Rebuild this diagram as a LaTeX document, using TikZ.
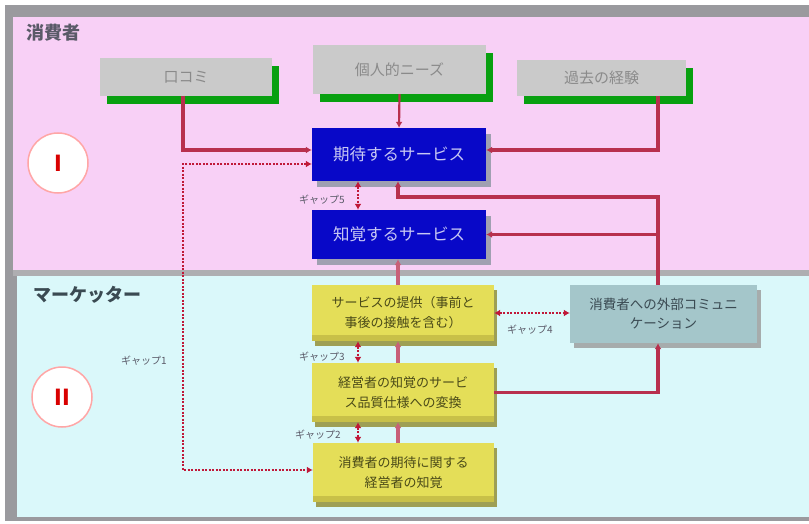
\documentclass[tikz,border=0pt]{standalone}
\usepackage{fontspec}
\setmainfont{Noto Sans CJK JP}
\usetikzlibrary{arrows.meta,shadows}
\definecolor{pinkbg}{HTML}{F8D0F6}
\definecolor{cyanbg}{HTML}{DAF8FA}
\definecolor{framegray}{HTML}{9A9A9E}
\definecolor{boxgray}{HTML}{CACACA}
\definecolor{txtgray}{HTML}{8A8A8A}
\definecolor{shgreen}{HTML}{08A010}
\definecolor{bluebox}{HTML}{0808C8}
\definecolor{bluetxt}{HTML}{C8C8F4}
\definecolor{yelbox}{HTML}{E4DE58}
\definecolor{yelband}{HTML}{C8C048}
\definecolor{yeltxt}{HTML}{4A4A18}
\definecolor{commbox}{HTML}{A4C6CA}
\definecolor{commtxt}{HTML}{3A4A52}
\definecolor{linered}{HTML}{B8304E}
\definecolor{linepink}{HTML}{C86078}
\definecolor{gapred}{HTML}{C01838}
\definecolor{labgray}{HTML}{5A5A68}
\tikzset{
  topbox/.style={fill=boxgray, text=txtgray, inner sep=0pt, font=\fontsize{15}{17}\selectfont,
    drop shadow={shadow xshift=7pt, shadow yshift=-8pt, fill=shgreen, opacity=1}},
  bluestyle/.style={fill=bluebox, text=bluetxt, inner sep=0pt, font=\fontsize{16.5}{18}\selectfont,
    drop shadow={shadow xshift=5pt, shadow yshift=-6pt, fill=black!40!cyan!30!gray, opacity=0.7}},
  yelstyle/.style={fill=yelbox, text=yeltxt, inner sep=0pt, align=center, font=\fontsize{13}{20}\selectfont,
    path picture={\fill[yelband] (path picture bounding box.south west) rectangle ([yshift=6pt]path picture bounding box.south east);},
    drop shadow={shadow xshift=3pt, shadow yshift=-5pt, fill=olive!70!gray, opacity=0.8}},
  commstyle/.style={fill=commbox, text=commtxt, inner sep=0pt, align=center, font=\fontsize{13.5}{19}\selectfont,
    drop shadow={shadow xshift=4pt, shadow yshift=-5pt, fill=gray!80, opacity=0.8}},
  inline/.style={draw=linered, line width=3.2pt, -{Latex[length=6pt,width=7pt]}},
  midline/.style={draw=linepink, line width=3.2pt, -{Latex[length=6pt,width=7pt]}},
  gapline/.style={draw=gapred, line width=2.6pt, dash pattern=on 2pt off 1.5pt, {Latex[length=6pt,width=7pt]}-{Latex[length=6pt,width=7pt]}},
  gaplab/.style={text=labgray, font=\fontsize{10}{12}\selectfont, inner sep=0pt},
  region/.style={text=labgray, font=\fontsize{18}{20}\selectfont\bfseries, inner sep=0pt},
  romancirc/.style={circle, fill=white, draw=red!35, line width=1.5pt, minimum size=60pt, inner sep=0pt,
    text=red!85!black, font=\fontsize{22}{24}\selectfont\bfseries}
}
\begin{document}
\begin{tikzpicture}[x=1pt,y=-1pt]
\useasboundingbox (0,0) rectangle (809,524);
% background
\fill[white] (0,0) rectangle (809,524);
\fill[framegray] (5,5) rectangle (809,521);
\fill[pinkbg] (13,17) rectangle (809,270);
\fill[framegray!80] (13,270) rectangle (809,276);
\fill[cyanbg] (17,276) rectangle (809,517);

\node[region] (consumer) at (54,33) {消費者};
\node[region, text=commtxt] (marketer) at (88,295) {マーケッター};
\node[romancirc] (c1) at (58,163) {I};
\node[romancirc] (c2) at (62,397) {II};

% top boxes
\node[topbox, minimum width=172pt, minimum height=38pt] (wom) at (186,77) {口コミ};
\node[topbox, minimum width=173pt, minimum height=49pt] (needs) at (399.5,69.5) {個人的ニーズ};
\node[topbox, minimum width=169pt, minimum height=36pt] (past) at (601.5,78) {過去の経験};

% blue boxes
\node[bluestyle, minimum width=174pt, minimum height=53pt] (exp) at (399,154.5) {期待するサービス};
\node[bluestyle, minimum width=174pt, minimum height=49pt] (perc) at (399,234.5) {知覚するサービス};

% yellow boxes
\node[yelstyle, minimum width=182pt, minimum height=56pt] (deliv) at (403,313) {サービスの提供（事前と\\事後の接触を含む）};
\node[yelstyle, minimum width=182pt, minimum height=59pt] (spec) at (403,392.5) {経営者の知覚のサービ\\ス品質仕様への変換};
\node[yelstyle, minimum width=181pt, minimum height=59pt] (mgmt) at (403.5,472.5) {消費者の期待に関する\\経営者の知覚};
\node[commstyle, minimum width=187pt, minimum height=58pt] (comm) at (663.5,314) {消費者への外部コミュニ\\ケーション};

% helper coordinates
\coordinate (cx) at (398,0);
\coordinate (gx) at (358,0);
\coordinate (rx) at (658,0);
\coordinate (lx) at (183,0);
\coordinate (j1) at (658,197);
\coordinate (wa) at ([yshift=4.5pt]exp.west);
\coordinate (pa) at ([yshift=4.5pt]exp.east);
\coordinate (g1a) at ([yshift=-9.5pt]exp.west);
\coordinate (g1b) at ([yshift=2.5pt]mgmt.west);

% inputs to expected service
\draw[inline] (wom.south -| lx) |- (wa);
\draw[inline, line width=2.2pt] (needs.south) -- (exp.north);
\draw[inline] (past.south -| rx) |- (pa);
\draw[inline] (comm.north -| rx) -- (j1) -| (exp.south -| cx);
\draw[inline] (perc.east -| rx) -- (perc.east);
\draw[inline] (spec.east) -| (comm.south -| rx);

% central flow
\draw[midline] (mgmt.north -| cx) -- (spec.south -| cx);
\draw[midline] (spec.north -| cx) -- (deliv.south -| cx);
\draw[midline] (deliv.north -| cx) -- (perc.south -| cx);

% gaps
\draw[gapline] (exp.south -| gx) -- (perc.north -| gx);
\draw[gapline] (deliv.south -| gx) -- (spec.north -| gx);
\draw[gapline] (spec.south -| gx) -- (mgmt.north -| gx);
\draw[gapline] (deliv.east) -- (deliv.east -| comm.west);
\draw[gapline, line width=1.8pt] (g1a) -| (lx |- g1b) -- (g1b);

\node[gaplab] (l5) at (322,200) {ギャップ5};
\node[gaplab] (l3) at (322,357) {ギャップ3};
\node[gaplab] (l2) at (318,435) {ギャップ2};
\node[gaplab] (l4) at (530,330) {ギャップ4};
\node[gaplab] (l1) at (144,361) {ギャップ1};
\end{tikzpicture}
\end{document}
